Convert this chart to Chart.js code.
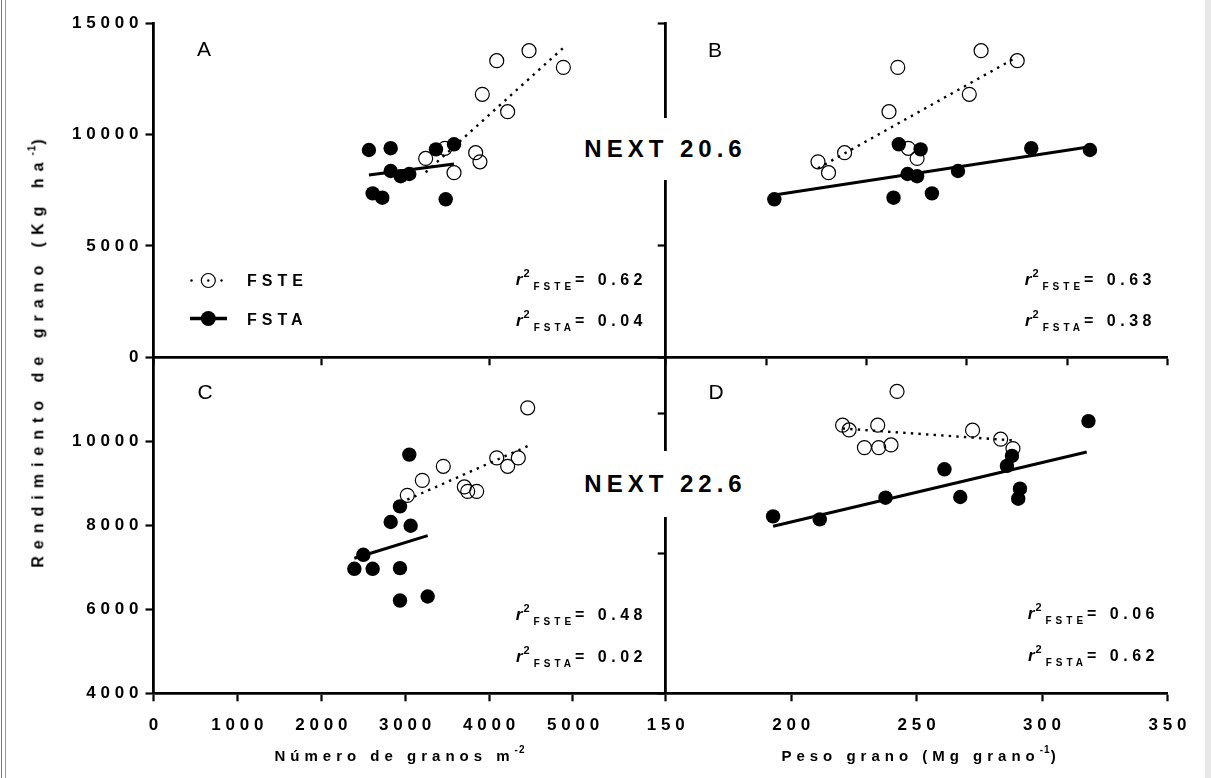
<!DOCTYPE html>
<html>
<head>
<meta charset="utf-8">
<script src="https://cdn.jsdelivr.net/npm/chart.js@4.4.1/dist/chart.umd.min.js"></script>
<style>
  html, body { margin: 0; padding: 0; background: #fff; }
  #fig { position: relative; width: 1211px; height: 778px; overflow: hidden; background: #fff;
         font-family: "Liberation Sans", Arial, sans-serif; color: #000; }
  #fig canvas { position: absolute; left: 0; top: 0; }
  .t { position: absolute; white-space: nowrap; line-height: 1; font-weight: bold; }
  .letter { font-weight: normal; font-size: 21px; transform: translate(-50%, -50%); }
  .leg { font-size: 16px; letter-spacing: 5px; transform: translateY(-50%); }
  .r2 { font-size: 16px; letter-spacing: 4.5px; transform: translateY(-50%); }
  .r2 i { font-style: italic; font-weight: bold; letter-spacing: 0; font-size: 17px; }
  .r2 .sup { position: relative; top: -8px; font-size: 11px; letter-spacing: 0; margin-left: 1px; }
  .r2 .sub { position: relative; top: 5px; font-size: 10px; letter-spacing: 4px; margin-left: 4px; }
  .next { font-size: 24px; letter-spacing: 5px; background: #fff; transform: translate(-50%, -50%);
          display: flex; align-items: center; justify-content: center; padding: 0 6px 0 11px; }
  .xt { font-size: 15px; letter-spacing: 5px; transform: translate(-50%, -50%); }
  .yt { font-size: 16px; letter-spacing: 7px; transform: translate(-50%, -50%) rotate(-90deg); }
  .xt sup, .yt sup { font-size: 10px; letter-spacing: 1px; position: relative; top: -2px; }
</style>
</head>
<body>
<div id="fig">
  <canvas id="cA" width="1211" height="778"></canvas>
  <canvas id="cB" width="1211" height="778"></canvas>
  <canvas id="cC" width="1211" height="778"></canvas>
  <canvas id="cD" width="1211" height="778"></canvas>

  <div style="position:absolute;left:1px;top:0;width:1px;height:778px;background:#777;"></div>
  <div style="position:absolute;left:5px;top:0;width:1px;height:778px;background:#999;"></div>
  <div style="position:absolute;left:1205px;top:0;width:6px;height:778px;background:#e8e8e8;"></div>

  <div class="t letter" style="left:204px;top:48px;">A</div>
  <div class="t letter" style="left:715px;top:49px;">B</div>
  <div class="t letter" style="left:205px;top:391px;">C</div>
  <div class="t letter" style="left:716px;top:391px;">D</div>

  <div class="t leg" style="left:247px;top:281px;">FSTE</div>
  <div class="t leg" style="left:247px;top:320px;">FSTA</div>

  <div class="t r2" style="right:564px;top:279px;"><i>r</i><span class="sup">2</span><span class="sub">FSTE</span>= 0.62</div>
  <div class="t r2" style="right:564px;top:320px;"><i>r</i><span class="sup">2</span><span class="sub">FSTA</span>= 0.04</div>
  <div class="t r2" style="right:55px;top:279px;"><i>r</i><span class="sup">2</span><span class="sub">FSTE</span>= 0.63</div>
  <div class="t r2" style="right:55px;top:320px;"><i>r</i><span class="sup">2</span><span class="sub">FSTA</span>= 0.38</div>
  <div class="t r2" style="right:564px;top:614px;"><i>r</i><span class="sup">2</span><span class="sub">FSTE</span>= 0.48</div>
  <div class="t r2" style="right:564px;top:656px;"><i>r</i><span class="sup">2</span><span class="sub">FSTA</span>= 0.02</div>
  <div class="t r2" style="right:52px;top:613px;"><i>r</i><span class="sup">2</span><span class="sub">FSTE</span>= 0.06</div>
  <div class="t r2" style="right:52px;top:655px;"><i>r</i><span class="sup">2</span><span class="sub">FSTA</span>= 0.62</div>

  <div class="t next" style="left:663px;top:149px;height:62px;">NEXT 20.6</div>
  <div class="t next" style="left:663px;top:484px;height:66px;">NEXT 22.6</div>

  <div class="t xt" style="left:400px;top:755px;">Número de granos m<sup>-2</sup></div>
  <div class="t xt" style="left:921px;top:755px;">Peso grano (Mg grano<sup>-1</sup>)</div>
  <div class="t yt" style="left:38px;top:350px;">Rendimiento de grano (Kg ha<sup>-1</sup>)</div>
</div>

<script>
// ---- data ----
// NEXT 20.6 : yield (kg/ha) with grain number (panel A) and grain weight (panel B)
const n206FsteYield  = [13770, 13320, 13020, 11810, 11030, 9385, 9188, 8930, 8780, 8290];
const n206FsteGranos = [4476, 4091, 4885, 3919, 4221, 3474, 3840, 3244, 3891, 3582];
const n206FstePeso   = [275.7, 290.1, 242.5, 271.0, 239.0, 246.7, 221.3, 250.2, 210.7, 214.9];
const n206FstaYield  = [9565, 9390, 9340, 9309, 8366, 8231, 8130, 7364, 7167, 7095];
const n206FstaGranos = [3582, 2827, 3367, 2568, 2827, 3049, 2946, 2612, 2727, 3483];
const n206FstaPeso   = [242.9, 295.7, 251.6, 319.1, 266.5, 246.4, 250.2, 256.1, 240.8, 193.3];

// NEXT 22.6 : panel C (grain number) and panel D (grain weight)
const n226FsteYield  = [10797, 9605, 9605, 9404, 9404, 9070, 8913, 8808, 8808, 8713];
const n226FsteGranos = [4460, 4091, 4348, 3454, 4221, 3204, 3705, 3745, 3852, 3025];
const n226FstePeso   = [242.2, 220.5, 234.5, 223.1, 272.3, 283.5, 239.8, 229.2, 234.9, 288.4];
const n226FstaYield  = [9683, 8450, 8078, 7990, 7298, 6981, 6964, 6964, 6304, 6208];
const n226FstaGranos = [3049, 2938, 2827, 3065, 2501, 2938, 2394, 2612, 3268, 2938];
const n226FstaPeso   = [318.5, 288.0, 286.0, 261.1, 291.2, 267.4, 237.6, 290.5, 192.8, 211.4];

// panel D is drawn on its own 0-12000 scale in the original figure
const n226FstaYieldD = [9721, 8479, 8121, 8000, 7307, 7011, 6986, 6950, 6318, 6211];
const n226FsteYieldD = [10782, 9575, 9575, 9407, 9396, 9075, 8871, 8775, 8775, 8739];

// fitted regression lines (end points as drawn)
const fitAFsteX = [3244, 4885],  fitAFsteY = [8310, 13900];
const fitAFstaX = [2568, 3582],  fitAFstaY = [8190, 8680];
const fitBFsteX = [210.7, 290.1], fitBFsteY = [8490, 13490];
const fitBFstaX = [193.3, 319.1], fitBFstaY = [7290, 9460];
const fitCFsteX = [3025, 4460],  fitCFsteY = [8610, 9885];
const fitCFstaX = [2394, 3268],  fitCFstaY = [7215, 7755];
const fitDFsteX = [220.5, 288.4], fitDFsteY = [9457, 9032];
const fitDFstaX = [192.8, 317.8], fitDFstaY = [5968, 8618];

// axis ticks
const ticksGranos = [0, 1000, 2000, 3000, 4000, 5000];
const ticksGranosMid = [0, 2000, 4000];
const ticksPeso = [150, 200, 250, 300, 350];
const ticksPesoMid = [150, 190, 230, 270, 310, 350];
const ticksYieldTop = [0, 5000, 10000, 15000];
const ticksYieldBottom = [4000, 6000, 8000, 10000];
const ticksYieldD = [0, 5000, 10000];

// ---- layout ----
const W = 1211, H = 778;
const LEFT = 153.5, MIDX = 665.7, RIGHT = 1167.5;
const TOP = 23.3, MIDY = 357.3, BOTTOM = 693.3;
const YW = 100, XH = 60;

Chart.defaults.font.family = '"Liberation Sans", Arial, sans-serif';
Chart.defaults.color = '#000';

const pts = (xs, ys) => xs.map((x, i) => ({ x: x, y: ys[i] }));

function openSet(xs, ys) {
  return { data: pts(xs, ys), order: 3, pointRadius: 7, pointBorderWidth: 1.2,
           pointBorderColor: '#000', pointBackgroundColor: 'rgba(0,0,0,0)', showLine: false, clip: false };
}
function filledSet(xs, ys) {
  return { data: pts(xs, ys), order: 0, pointRadius: 7.2, pointBorderWidth: 0,
           pointBackgroundColor: '#000', showLine: false, clip: false };
}
function fitSet(xs, ys, dotted) {
  return { data: pts(xs, ys), order: 1, showLine: true, pointRadius: 0, borderColor: '#000',
           borderWidth: dotted ? 2.4 : 3, borderDash: dotted ? [2.4, 5.2] : [], clip: false };
}

// tick labels in the original are widely letter-spaced
const spacing = {
  id: 'spacing',
  beforeUpdate(chart) { chart.ctx.letterSpacing = '4.8px'; },
  beforeDraw(chart) { chart.ctx.letterSpacing = '4.8px'; }
};

const legendMarks = {
  id: 'legendMarks',
  afterDraw(chart) {
    const ctx = chart.ctx;
    ctx.save();
    ctx.fillStyle = '#000';
    ctx.strokeStyle = '#000';
    [191.5, 208.3, 221.5].forEach(x => { ctx.beginPath(); ctx.arc(x, 280.5, 1.2, 0, Math.PI * 2); ctx.fill(); });
    ctx.beginPath(); ctx.arc(208.3, 280.5, 7, 0, Math.PI * 2); ctx.lineWidth = 1.2; ctx.stroke();
    ctx.beginPath(); ctx.moveTo(190, 318.5); ctx.lineTo(227, 318.5); ctx.lineWidth = 3.5; ctx.stroke();
    ctx.beginPath(); ctx.arc(208.3, 318.5, 7.5, 0, Math.PI * 2); ctx.fill();
    ctx.restore();
  }
};

function axis(min, max, ticks, showLabels, isX) {
  return {
    type: 'linear', min: min, max: max,
    afterBuildTicks: s => { s.ticks = ticks.map(v => ({ value: v })); },
    afterFit: s => { if (isX) s.height = XH; else s.width = YW; },
    grid: { display: true, drawOnChartArea: false, drawTicks: true, tickLength: 8,
            tickWidth: 2.2, tickColor: '#000' },
    border: { display: true, width: 2.8, color: '#000' },
    ticks: { display: showLabels, color: '#000', font: { size: 17, weight: 'bold' },
             callback: v => String(v),
             padding: isX ? 14 : 2.2, labelOffset: isX ? 2.4 : 0, maxRotation: 0, autoSkip: false }
  };
}

function panel(id, area, datasets, xAxis, yAxis, extra) {
  return new Chart(document.getElementById(id), {
    type: 'scatter',
    data: { datasets: datasets },
    options: {
      responsive: false, animation: false, devicePixelRatio: 1,
      layout: { padding: { left: area[0] - YW, top: area[1], right: W - area[2], bottom: H - area[3] - XH } },
      plugins: { legend: { display: false }, tooltip: { enabled: false } },
      events: [],
      scales: { x: xAxis, y: yAxis }
    },
    plugins: [spacing].concat(extra || [])
  });
}

panel('cA', [LEFT, TOP, MIDX, MIDY], [
  filledSet(n206FstaGranos, n206FstaYield),
  fitSet(fitAFstaX, fitAFstaY, false),
  fitSet(fitAFsteX, fitAFsteY, true),
  openSet(n206FsteGranos, n206FsteYield)
], axis(0, 6105, ticksGranosMid, false, true), axis(0, 15000, ticksYieldTop, true, false), [legendMarks]);

panel('cB', [MIDX, TOP, RIGHT, MIDY], [
  filledSet(n206FstaPeso, n206FstaYield),
  fitSet(fitBFstaX, fitBFstaY, false),
  fitSet(fitBFsteX, fitBFsteY, true),
  openSet(n206FstePeso, n206FsteYield)
], axis(150, 350, ticksPesoMid, false, true), axis(0, 15000, ticksYieldTop, false, false));

panel('cC', [LEFT, MIDY, MIDX, BOTTOM], [
  filledSet(n226FstaGranos, n226FstaYield),
  fitSet(fitCFstaX, fitCFstaY, false),
  fitSet(fitCFsteX, fitCFsteY, true),
  openSet(n226FsteGranos, n226FsteYield)
], axis(0, 6105, ticksGranos, true, true), axis(4000, 12000, ticksYieldBottom, true, false));

panel('cD', [MIDX, MIDY, RIGHT, BOTTOM], [
  filledSet(n226FstaPeso, n226FstaYieldD),
  fitSet(fitDFstaX, fitDFstaY, false),
  fitSet(fitDFsteX, fitDFsteY, true),
  openSet(n226FstePeso, n226FsteYieldD)
], axis(150, 350, ticksPeso, true, true), axis(0, 12000, ticksYieldD, false, false));
</script>
</body>
</html>
